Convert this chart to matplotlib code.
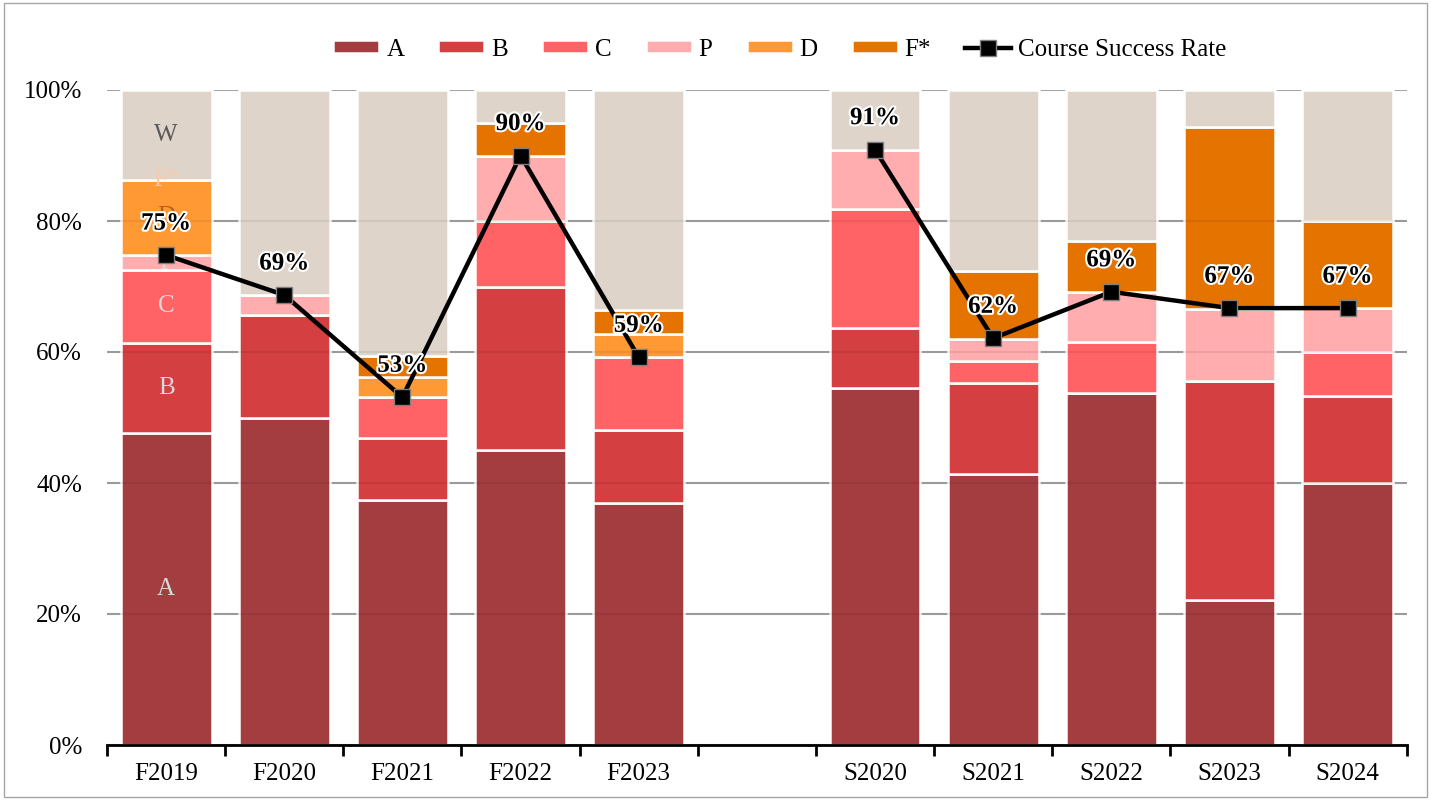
import matplotlib
matplotlib.use('Agg')
import matplotlib.pyplot as plt
import matplotlib.patheffects as pe
from matplotlib.patches import Rectangle
from matplotlib.lines import Line2D
import numpy as np

plt.rcParams['font.family'] = 'Liberation Serif'

# Grade distribution per term (percent of enrolled students)
terms = ['F2019', 'F2020', 'F2021', 'F2022', 'F2023',
         'S2020', 'S2021', 'S2022', 'S2023', 'S2024']
grade_a = [47.6, 50.0, 37.4, 45.0, 37.0, 54.5, 41.4, 53.8, 22.2, 40.0]
grade_b = [13.8, 15.6, 9.5, 25.0, 11.1, 9.1, 13.8, 0.0, 33.3, 13.3]
grade_c = [11.1, 0.0, 6.2, 10.0, 11.1, 18.2, 3.4, 7.7, 0.0, 6.7]
grade_p = [2.3, 3.1, 0.0, 10.0, 0.0, 9.1, 3.4, 7.7, 11.1, 6.7]
grade_d = [11.5, 0.0, 3.1, 0.0, 3.5, 0.0, 0.0, 0.0, 0.0, 0.0]
grade_f = [0.0, 0.0, 3.2, 5.0, 3.7, 0.0, 10.3, 7.7, 27.8, 13.3]
grade_w = [13.7, 31.3, 40.6, 5.0, 33.6, 9.1, 27.7, 23.1, 5.6, 20.0]
success_rate = [74.8, 68.7, 53.1, 90.0, 59.2, 90.9, 62.1, 69.2, 66.7, 66.7]

series_names = ['A', 'B', 'C', 'P', 'D', 'F*', 'W']
series_vals = [grade_a, grade_b, grade_c, grade_p, grade_d, grade_f, grade_w]
series_colors = ['#A33D40', '#D44042', '#FF6366', '#FFADAF', '#FF9933', '#E57300', '#DED4CA']
# colours of the in-bar series labels on the first bar
inbar_colors = ['#D9D9D9', '#D9D9D9', '#D9D9D9', '#D9D9D9', '#C55A11', '#F8CBAD', '#595959']

# fall terms, a blank slot, then spring terms
x = np.array(list(range(5)) + list(range(6, 11)))
tick_labels = terms[:5] + [''] + terms[5:]

fig = plt.figure(figsize=(14.31, 8.0), dpi=100)
ax = fig.add_axes([0.0748, 0.06875, 0.9082, 0.81875])

bottom = np.zeros(len(terms))
handles = []
for name, vals, col in zip(series_names, series_vals, series_colors):
    v = np.array(vals) / 100
    bars = ax.bar(x, v, bottom=bottom, width=0.77, color=col,
                  edgecolor='white', linewidth=1.8, zorder=2)
    if name != 'W':
        handles.append(bars)
    bottom += v

# faint gridline showing through the bars
for t in np.arange(0.2, 1.0, 0.2):
    ax.axhline(t, color='black', alpha=0.07, lw=1.5, zorder=2.5)

# series labels inside the first bar
bottom0 = 0
for name, vals, tc in zip(series_names, series_vals, inbar_colors):
    h = vals[0] / 100
    ax.text(x[0], bottom0 + h / 2, name, ha='center', va='center',
            fontsize=18, color=tc, zorder=3)
    bottom0 += h

# line is broken at the blank slot between fall and spring
x_line = np.arange(11)
rate = np.array(success_rate[:5] + [np.nan] + success_rate[5:]) / 100
ax.plot(x_line, rate, color='black', lw=3.2, marker='s', markersize=11.5,
        markerfacecolor='black', markeredgecolor='#7F7F7F',
        markeredgewidth=1, zorder=5)
for xi, r in zip(x, success_rate):
    ax.annotate(f'{r:.0f}%', (xi, r / 100), xytext=(0, 23), textcoords='offset points',
                ha='center', va='center', fontsize=18, fontweight='bold', zorder=6,
                path_effects=[pe.withStroke(linewidth=3, foreground='white')])

ax.set_ylim(0, 1)
ax.set_xlim(-0.5, 10.5)
ax.set_yticks(np.arange(0, 1.01, 0.2))
ax.set_yticklabels([f'{int(round(t * 100))}%' for t in np.arange(0, 1.01, 0.2)])
ax.set_xticks(np.arange(11))
ax.set_xticklabels(tick_labels)
ax.set_xticks(np.arange(-0.5, 11, 1), minor=True)
ax.tick_params(axis='x', which='major', length=0, labelsize=18, pad=13)
ax.tick_params(axis='x', which='minor', length=8, width=2, direction='out', color='black')
ax.tick_params(axis='y', length=0, labelsize=18, pad=18)
ax.yaxis.grid(True, color='#A6A6A6', lw=1.5, zorder=0)
ax.set_axisbelow(True)
for s in ['top', 'right', 'left']:
    ax.spines[s].set_visible(False)
ax.spines['bottom'].set_linewidth(2)

leg_handles = handles + [Line2D([0], [0], color='black', lw=3.2, marker='s', markersize=11.5,
                                markerfacecolor='black', markeredgecolor='#7F7F7F')]
fig.legend(leg_handles, series_names[:6] + ['Course Success Rate'], loc='center',
           bbox_to_anchor=(0.545, 0.938), ncol=7, frameon=False, fontsize=18,
           handlelength=1.84, handleheight=0.4, handletextpad=0.28, columnspacing=1.36)

fig.patches.append(Rectangle((0.003, 0.004), 0.994, 0.992, transform=fig.transFigure,
                             fill=False, edgecolor='#A6A6A6', lw=1))

fig.savefig('out.png', dpi=100)
